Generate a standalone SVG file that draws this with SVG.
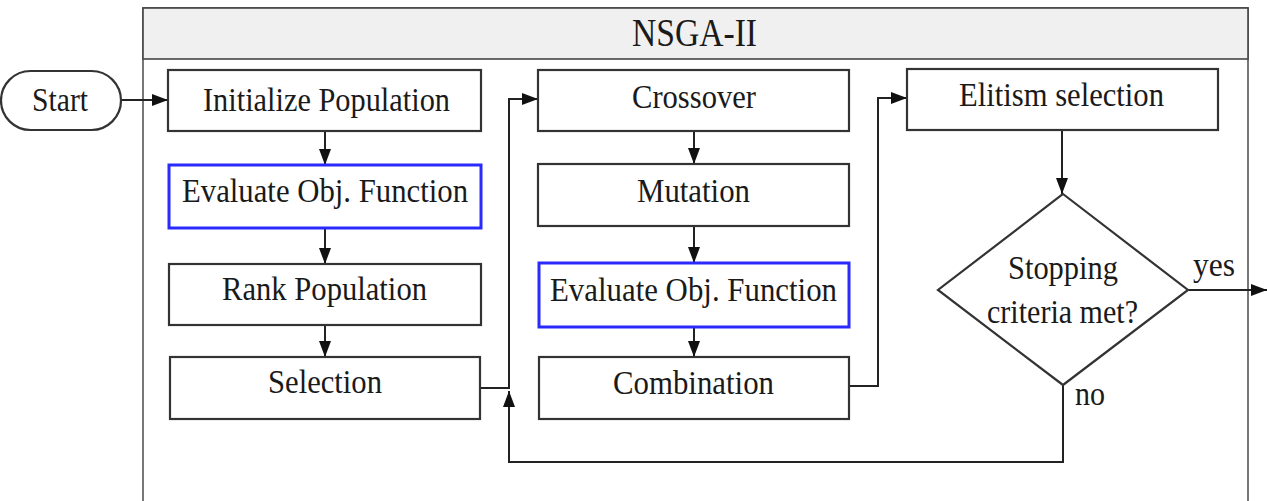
<svg xmlns="http://www.w3.org/2000/svg" width="1267" height="501" viewBox="0 0 1267 501">
  <style>
    .box { fill: #ffffff; stroke: #333333; stroke-width: 2.2; }
    .eval { fill: #ffffff; stroke: #2a2aff; stroke-width: 3; }
    .frame { fill: #ffffff; stroke: #555555; stroke-width: 1.6; }
    .header { fill: #f0f0f0; stroke: #444444; stroke-width: 1.6; }
    .wire { fill: none; stroke: #222222; stroke-width: 2; }
    text { font-family: 'Liberation Serif', 'DejaVu Serif', serif; fill: #1a1a1a; }
    .label { font-size: 34px; }
    .title { font-size: 40px; }
  </style>
  <defs>
    <marker id="arrow" viewBox="0 0 16 12" refX="16" refY="6" markerWidth="16" markerHeight="12" markerUnits="userSpaceOnUse" orient="auto">
      <path d="M0,0 L16,6 L0,12 Z" fill="#111111"/>
    </marker>
  </defs>

  <rect width="1267" height="501" fill="#ffffff"/>

  <!-- swimlane frame -->
  <g id="lane">
    <rect class="frame" x="143" y="8" width="1105" height="494"/>
    <rect class="header" x="143" y="8" width="1105" height="51"/>
    <text class="title" x="632" y="46" textLength="125" lengthAdjust="spacingAndGlyphs">NSGA-II</text>
  </g>

  <!-- connectors -->
  <g id="connectors">
    <path class="wire" d="M121,100 H168" marker-end="url(#arrow)"/>
    <path class="wire" d="M325,131 V165" marker-end="url(#arrow)"/>
    <path class="wire" d="M325,228 V264" marker-end="url(#arrow)"/>
    <path class="wire" d="M325,325 V357" marker-end="url(#arrow)"/>
    <path class="wire" d="M480,388 H509 V99 H538" marker-end="url(#arrow)"/>
    <path class="wire" d="M694,131 V164" marker-end="url(#arrow)"/>
    <path class="wire" d="M694,226 V263" marker-end="url(#arrow)"/>
    <path class="wire" d="M694,327 V357" marker-end="url(#arrow)"/>
    <path class="wire" d="M849,386 H878 V98 H907" marker-end="url(#arrow)"/>
    <path class="wire" d="M1062,130 V194" marker-end="url(#arrow)"/>
    <path class="wire" d="M1063,385 V462 H509 V391" marker-end="url(#arrow)"/>
    <path class="wire" d="M1188,290 H1267" marker-end="url(#arrow)"/>
    <text class="label" x="1193" y="276" textLength="42" lengthAdjust="spacingAndGlyphs">yes</text>
    <text class="label" x="1075" y="405" textLength="30" lengthAdjust="spacingAndGlyphs">no</text>
  </g>

  <g id="start">
    <rect class="box" x="1" y="71" width="120" height="59" rx="29.5" ry="29.5"/>
    <text class="label" x="32" y="111" textLength="56" lengthAdjust="spacingAndGlyphs">Start</text>
  </g>

  <g id="init-population">
    <rect class="box" x="168" y="70" width="313" height="61"/>
    <text class="label" x="203" y="111" textLength="247" lengthAdjust="spacingAndGlyphs">Initialize Population</text>
  </g>

  <g id="evaluate-1">
    <rect class="eval" x="169" y="165" width="312" height="63"/>
    <text class="label" x="182" y="202" textLength="286" lengthAdjust="spacingAndGlyphs">Evaluate Obj. Function</text>
  </g>

  <g id="rank-population">
    <rect class="box" x="169" y="264" width="312" height="61"/>
    <text class="label" x="222" y="300" textLength="205" lengthAdjust="spacingAndGlyphs">Rank Population</text>
  </g>

  <g id="selection">
    <rect class="box" x="170" y="357" width="310" height="62"/>
    <text class="label" x="268" y="393" textLength="114" lengthAdjust="spacingAndGlyphs">Selection</text>
  </g>

  <g id="crossover">
    <rect class="box" x="538" y="70" width="311" height="61"/>
    <text class="label" x="632" y="108" textLength="124" lengthAdjust="spacingAndGlyphs">Crossover</text>
  </g>

  <g id="mutation">
    <rect class="box" x="538" y="164" width="311" height="62"/>
    <text class="label" x="637" y="202" textLength="113" lengthAdjust="spacingAndGlyphs">Mutation</text>
  </g>

  <g id="evaluate-2">
    <rect class="eval" x="539" y="263" width="310" height="64"/>
    <text class="label" x="550" y="301" textLength="287" lengthAdjust="spacingAndGlyphs">Evaluate Obj. Function</text>
  </g>

  <g id="combination">
    <rect class="box" x="539" y="357" width="310" height="62"/>
    <text class="label" x="613" y="394" textLength="161" lengthAdjust="spacingAndGlyphs">Combination</text>
  </g>

  <g id="elitism">
    <rect class="box" x="907" y="69" width="311" height="61"/>
    <text class="label" x="959" y="106" textLength="205" lengthAdjust="spacingAndGlyphs">Elitism selection</text>
  </g>

  <g id="stopping-check">
    <path class="box" d="M1063,194 L1188,290 L1063,385 L938,290 Z"/>
    <text class="label" x="1008" y="279" textLength="110" lengthAdjust="spacingAndGlyphs">Stopping</text>
    <text class="label" x="987" y="323" textLength="151" lengthAdjust="spacingAndGlyphs">criteria met?</text>
  </g>
</svg>
